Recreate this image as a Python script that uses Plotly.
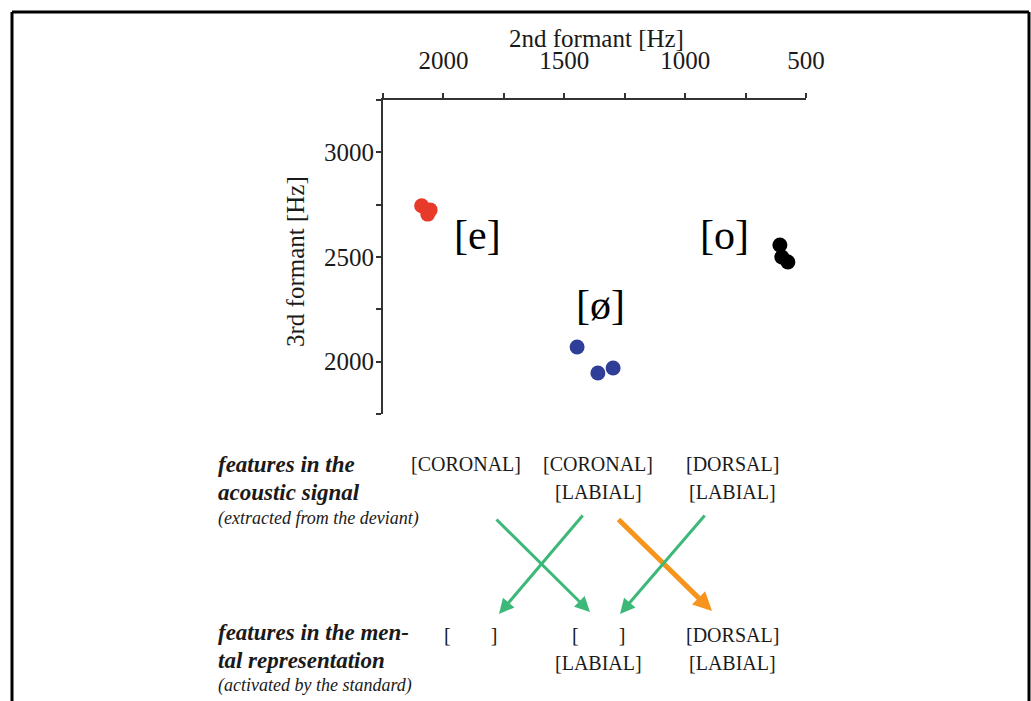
import plotly.graph_objects as go

# ---------------- data ----------------
e_f2 = [2090, 2055, 2065]
e_f3 = [2745, 2725, 2705]
oe_f2 = [1447, 1361, 1298]
oe_f3 = [2070, 1946, 1970]
o_f2 = [608, 600, 575]
o_f3 = [2557, 2500, 2476]

vowel_labels = ["[e]", "[ø]", "[o]"]
vowel_label_f2 = [1861, 1352, 839]
vowel_label_f3 = [2605, 2271, 2605]

x_tickvals = [2250, 2000, 1750, 1500, 1250, 1000, 750, 500]
x_ticktext = ["", "2000", "", "1500", "", "1000", "", "500"]
y_tickvals = [1750, 2000, 2250, 2500, 2750, 3000, 3250]
y_ticktext = ["", "2000", "", "2500", "", "3000", ""]

x_title = "2nd formant [Hz]"
y_title = "3rd formant [Hz]"

NB = "\u00a0" * 8
acoustic_features = [["[CORONAL]"], ["[CORONAL]", "[LABIAL]"], ["[DORSAL]", "[LABIAL]"]]
mental_features = [["[" + NB + "]"], ["[" + NB + "]", "[LABIAL]"], ["[DORSAL]", "[LABIAL]"]]
acoustic_heading = ["features in the", "acoustic signal"]
acoustic_note = "(extracted from the deviant)"
mental_heading = ["features in the men-", "tal representation"]
mental_note = "(activated by the standard)"

# ---------------- layout helpers ----------------
W, H = 1031, 701
L, R, T, B = 383, 806, 100, 414  # plot area in pixels


def px(x):
    return (x - L) / (R - L)


def py(y):
    return (B - y) / (B - T)


SERIF = "Liberation Serif, Times New Roman, serif"
GREEN = "#3cb878"
ORANGE = "#f7941d"
TXT = "#1a1a1a"

fig = go.Figure()
fig.add_trace(go.Scatter(x=e_f2, y=e_f3, mode="markers",
                         marker=dict(size=15, color="#e83a2a"), showlegend=False))
fig.add_trace(go.Scatter(x=oe_f2, y=oe_f3, mode="markers",
                         marker=dict(size=15, color="#2f3e96"), showlegend=False))
fig.add_trace(go.Scatter(x=o_f2, y=o_f3, mode="markers",
                         marker=dict(size=15, color="#000000"), showlegend=False))

annotations = []


def txt(x, y, text, size, xanchor="center", style=None, angle=0):
    if style == "bi":
        text = "<b><i>" + text + "</i></b>"
    elif style == "i":
        text = "<i>" + text + "</i>"
    annotations.append(dict(x=px(x), y=py(y), xref="paper", yref="paper", text=text,
                            xanchor=xanchor, yanchor="middle", showarrow=False,
                            textangle=angle,
                            font=dict(family=SERIF, size=size, color=TXT)))


for lab, xv, yv in zip(vowel_labels, vowel_label_f2, vowel_label_f3):
    annotations.append(dict(x=xv, y=yv, xref="x", yref="y", text=lab, showarrow=False,
                            xanchor="center", yanchor="middle",
                            font=dict(family=SERIF, size=42, color="black")))

# axis titles
txt(596, 38, x_title, 25)
txt(295, 262, y_title, 25, angle=-90)

# lower diagram text
col_x = [466, 598, 732]
for cx, feats in zip(col_x, acoustic_features):
    for i, f in enumerate(feats):
        txt(cx, 464 + 28 * i, f, 20)
col_x2 = [470, 598, 732]
for cx, feats in zip(col_x2, mental_features):
    for i, f in enumerate(feats):
        txt(cx, 635 + 28 * i, f, 20)

for i, t in enumerate(acoustic_heading):
    txt(216, 464 + 28 * i, t, 23, xanchor="left", style="bi")
txt(216, 518, acoustic_note, 18, xanchor="left", style="i")
for i, t in enumerate(mental_heading):
    txt(216, 632 + 28 * i, t, 23, xanchor="left", style="bi")
txt(216, 685, mental_note, 18, xanchor="left", style="i")

# arrows: (tail_x, tail_y, head_x, head_y, color, width, size)
arrows = [
    (495, 518, 590, 612, GREEN, 3, 1.0),
    (584, 514, 499, 614, GREEN, 3, 1.0),
    (617, 518, 712, 611, ORANGE, 5, 0.75),
    (706, 514, 620, 614, GREEN, 3, 1.0),
]
for tx, ty, hx, hy, col, w, s in arrows:
    annotations.append(dict(x=px(hx), y=py(hy), xref="paper", yref="paper",
                            ax=tx - hx, ay=ty - hy, axref="pixel", ayref="pixel",
                            text="", showarrow=True, arrowhead=2, arrowsize=s,
                            arrowwidth=w, arrowcolor=col, standoff=0, startstandoff=0))

# frame border (left, top, right)
shapes = [
    dict(type="line", xref="paper", yref="paper", x0=px(12), y0=py(12), x1=px(12), y1=py(720),
         line=dict(color="black", width=3)),
    dict(type="line", xref="paper", yref="paper", x0=px(12), y0=py(12), x1=px(1029), y1=py(12),
         line=dict(color="black", width=3)),
    dict(type="line", xref="paper", yref="paper", x0=px(1029), y0=py(12), x1=px(1029), y1=py(720),
         line=dict(color="black", width=3)),
]

axis_common = dict(showgrid=False, zeroline=False, showline=True, linecolor="#333333",
                   linewidth=2, ticks="outside", ticklen=5, tickwidth=1.5, tickcolor="#333333",
                   tickfont=dict(family=SERIF, size=25, color=TXT))

fig.update_layout(
    width=W, height=H, autosize=False,
    margin=dict(l=L, r=W - R, t=T, b=H - B, pad=0),
    paper_bgcolor="white", plot_bgcolor="white",
    xaxis=dict(range=[2250, 500], side="top", tickvals=x_tickvals, ticktext=x_ticktext,
               ticklabelstandoff=14, **axis_common),
    yaxis=dict(range=[1750, 3250], tickvals=y_tickvals, ticktext=y_ticktext,
               ticklabelstandoff=-3, **axis_common),
    annotations=annotations,
    shapes=shapes,
    showlegend=False,
)

fig.write_html("out.html", config={"displayModeBar": False},
               post_script="document.body.style.margin='0px';document.body.style.overflow='hidden';")
